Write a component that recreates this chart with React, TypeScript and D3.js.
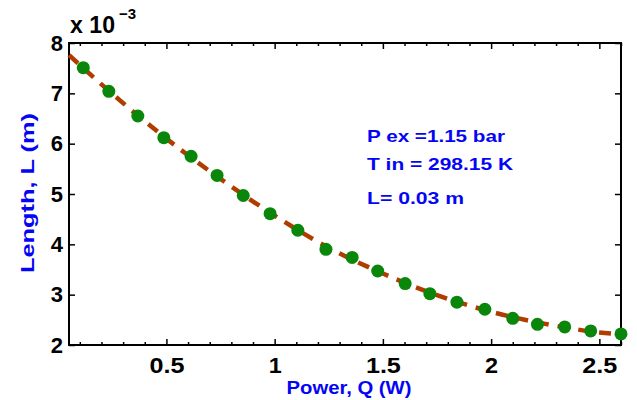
import { useEffect, useRef } from "react";
import * as d3 from "d3";

// measured points, L in units of 1e-3 m
const powerQ = [0.116, 0.234, 0.368, 0.488, 0.614, 0.734, 0.855, 0.979, 1.107, 1.237, 1.358, 1.476, 1.603, 1.717, 1.842, 1.971, 2.1, 2.214, 2.34, 2.46, 2.6];
const lengthL = [7.51, 7.04, 6.55, 6.12, 5.75, 5.37, 4.97, 4.61, 4.28, 3.9, 3.74, 3.47, 3.22, 3.02, 2.85, 2.71, 2.53, 2.41, 2.36, 2.28, 2.22];

// fitted curve (dashed)
const fitQ = [0.05, 0.25, 0.5, 0.75, 1.0, 1.25, 1.5, 1.75, 2.0, 2.25, 2.5, 2.6];
const fitL = [7.76, 6.99, 6.1, 5.3, 4.57, 3.93, 3.42, 2.99, 2.66, 2.42, 2.25, 2.21];

const xMajor = [0.5, 1, 1.5, 2, 2.5];
const yMajor = [2, 3, 4, 5, 6, 7, 8];
const notes = ["P ex =1.15 bar", "T in = 298.15 K", "L= 0.03 m"];

export default function App() {
  const ref = useRef<SVGSVGElement>(null);

  useEffect(() => {
    const width = 637;
    const height = 400;
    const m = { left: 69, right: 16, top: 43, bottom: 55 };
    const font = "Arial, 'Liberation Sans', sans-serif";
    const blue = "#0505f5";

    const svg = d3.select(ref.current);
    svg.selectAll("*").remove();

    const x = d3.scaleLinear().domain([0.05, 2.6]).range([m.left, width - m.right]);
    const y = d3.scaleLinear().domain([2, 8]).range([height - m.bottom, m.top]);
    const xMinor = d3.range(0.1, 2.61, 0.1).filter(v => !xMajor.some(t => Math.abs(t - v) < 1e-6));

    const g = svg.append("g");

    const styleAxis = (sel: any) => {
      sel.select(".domain").remove();
      sel.selectAll("line").attr("stroke", "#000").attr("stroke-width", 1.5);
      sel.selectAll("text")
        .attr("font-family", font)
        .attr("font-weight", "bold")
        .attr("font-size", 22)
        .attr("fill", "#000");
    };

    const bottom = height - m.bottom;
    const right = width - m.right;

    // bottom axis
    g.append("g").attr("transform", `translate(0,${bottom})`)
      .call(d3.axisBottom(x).tickValues(xMinor).tickSize(-3).tickFormat(() => ""))
      .call(styleAxis);
    g.append("g").attr("transform", `translate(0,${bottom})`)
      .call(d3.axisBottom(x).tickValues(xMajor).tickSize(-6).tickPadding(12).tickFormat(d3.format("")))
      .call(styleAxis)
      .selectAll("text").attr("textLength", (d: any) => (String(d).length === 1 ? 13 : 35)).attr("lengthAdjust", "spacingAndGlyphs");
    // top axis
    g.append("g").attr("transform", `translate(0,${m.top})`)
      .call(d3.axisTop(x).tickValues(xMinor).tickSize(-3).tickFormat(() => ""))
      .call(styleAxis);
    g.append("g").attr("transform", `translate(0,${m.top})`)
      .call(d3.axisTop(x).tickValues(xMajor).tickSize(-6).tickFormat(() => ""))
      .call(styleAxis);
    // left axis
    g.append("g").attr("transform", `translate(${m.left},0)`)
      .call(d3.axisLeft(y).tickValues(yMajor).tickSize(-6).tickPadding(6).tickFormat(d3.format("d")))
      .call(styleAxis);
    // right axis
    g.append("g").attr("transform", `translate(${right},0)`)
      .call(d3.axisRight(y).tickValues(yMajor).tickSize(-6).tickFormat(() => ""))
      .call(styleAxis);

    // frame
    g.append("rect")
      .attr("x", m.left).attr("y", m.top)
      .attr("width", right - m.left).attr("height", bottom - m.top)
      .attr("fill", "none").attr("stroke", "#000").attr("stroke-width", 2);

    // fitted dashed curve
    const fit = fitQ.map((q, i) => [q, fitL[i]] as [number, number]);
    g.append("path")
      .datum(fit)
      .attr("d", d3.line<[number, number]>().x(d => x(d[0])).y(d => y(d[1])).curve(d3.curveMonotoneX))
      .attr("fill", "none")
      .attr("stroke", "#b03c00")
      .attr("stroke-width", 4.5)
      .attr("stroke-dasharray", "12,9");

    // points
    g.append("g").selectAll("circle")
      .data(powerQ.map((q, i) => [q, lengthL[i]]))
      .join("circle")
      .attr("cx", d => x(d[0]))
      .attr("cy", d => y(d[1]))
      .attr("r", 6.5)
      .attr("fill", "#0a870a");

    // exponent
    const ex = g.append("text").attr("font-family", font).attr("font-weight", "bold").attr("fill", "#000");
    ex.append("tspan").attr("x", 70).attr("y", 33).attr("font-size", 23).attr("textLength", 45).attr("lengthAdjust", "spacingAndGlyphs").text("x 10");
    ex.append("tspan").attr("x", 119).attr("y", 19).attr("font-size", 15).text("\u22123");

    // axis labels
    g.append("text")
      .attr("x", (m.left + right) / 2 + 4).attr("y", 394)
      .attr("text-anchor", "middle")
      .attr("font-family", font).attr("font-weight", "bold").attr("font-size", 18)
      .attr("fill", blue)
      .attr("textLength", 125).attr("lengthAdjust", "spacingAndGlyphs")
      .text("Power, Q (W)");
    g.append("text")
      .attr("transform", `translate(34,193) rotate(-90)`)
      .attr("text-anchor", "middle")
      .attr("font-family", font).attr("font-weight", "bold").attr("font-size", 18)
      .attr("fill", blue)
      .attr("textLength", 160).attr("lengthAdjust", "spacingAndGlyphs")
      .text("Length, L (m)");

    // annotation
    const noteY = [142, 170, 204];
    const noteW = [138, 146, 97];
    g.append("g").selectAll("text")
      .data(notes)
      .join("text")
      .attr("x", 367)
      .attr("y", (_, i) => noteY[i])
      .attr("font-family", font).attr("font-weight", "bold").attr("font-size", 17)
      .attr("fill", blue)
      .attr("textLength", (_, i) => noteW[i]).attr("lengthAdjust", "spacingAndGlyphs")
      .text(d => d);
  }, []);

  return (
    <svg
      ref={ref}
      width={637}
      height={400}
      style={{ position: "absolute", left: 0, top: 0, background: "#fff" }}
    />
  );
}
